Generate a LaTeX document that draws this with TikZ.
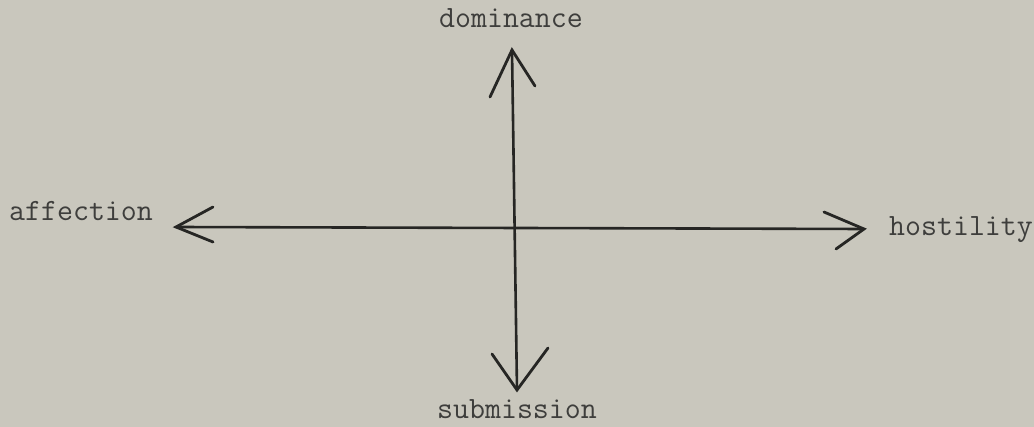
\documentclass[tikz,border=0pt]{standalone}
\usepackage{fontspec}
\definecolor{paper}{RGB}{201,199,189}
\definecolor{ink}{RGB}{38,38,36}
\definecolor{type}{RGB}{62,62,60}
\begin{document}
\begin{tikzpicture}[x=1pt,y=-1pt,
  axis/.style={draw=ink,line width=2.6pt,line cap=round},
  barb/.style={draw=ink,line width=2.8pt,line cap=round},
  lbl/.style={text=type,font=\ttfamily\fontsize{31}{34}\selectfont,inner sep=0pt}]
\fill[paper] (0,0) rectangle (1034,427);
\useasboundingbox (0,0) rectangle (1034,427);
\coordinate (top) at (512,50);
\coordinate (bot) at (517,390);
\coordinate (lft) at (176,227);
\coordinate (rgt) at (864,229);
\node[lbl,anchor=base] (dom) at (511,28) {dominance};
\node[lbl,anchor=base] (sub) at (517,419) {submission};
\node[lbl,anchor=base west] (aff) at (9,221) {affection};
\node[lbl,anchor=base west] (hos) at (889,236) {hostility};
\draw[axis] (top) -- (bot);
\draw[axis] (lft) -- (rgt);
\draw[barb] (490,97) -- (top) -- (535,86);
\draw[barb] (492,354) -- (bot) -- (548,348);
\draw[barb] (213,207) -- (lft) -- (213,242);
\draw[barb] (824,212) -- (rgt) -- (836,249);
\end{tikzpicture}
\end{document}
